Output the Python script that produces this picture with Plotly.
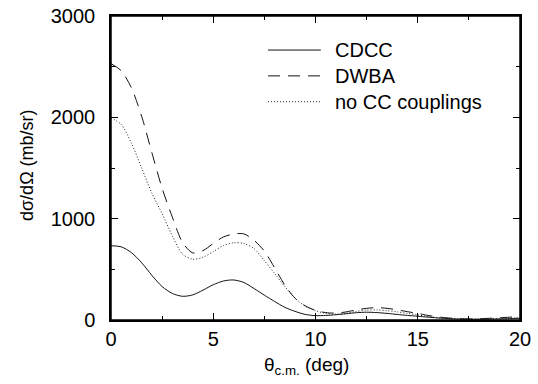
import plotly.graph_objects as go

theta = [0, 0.5, 1, 1.5, 2, 2.5, 3, 3.5, 4, 4.5, 5, 5.5, 6, 6.5, 7, 7.5, 8, 8.5, 9, 9.5,
         10, 10.5, 11, 11.5, 12, 12.5, 13, 13.5, 14, 14.5, 15, 15.5, 16, 16.5, 17, 17.5,
         18, 18.5, 19, 19.5, 20]

cdcc = [733, 722, 665, 565, 440, 330, 262, 234, 248, 295, 348, 385, 395, 370, 310, 245,
        183, 125, 85, 55, 43, 45, 52, 62, 72, 77, 73, 65, 55, 45, 37, 28, 20, 14, 10, 8,
        8, 9, 11, 14, 17]

dwba = [2530, 2460, 2290, 2010, 1650, 1300, 1015, 765, 662, 685, 755, 820, 848, 850, 785,
        680, 515, 345, 215, 140, 95, 73, 68, 80, 100, 115, 122, 115, 100, 82, 65, 45, 30,
        20, 13, 10, 12, 17, 22, 28, 35]

nocc = [1995, 1930, 1745, 1500, 1250, 1050, 830, 650, 600, 620, 675, 735, 762, 755, 703,
        585, 460, 330, 215, 135, 92, 65, 58, 68, 85, 97, 100, 92, 80, 65, 50, 35, 23, 15,
        10, 8, 10, 13, 16, 20, 24]

names = ["CDCC", "DWBA", "no CC couplings"]
dashes = ["solid", "12px,8px", "1px,2px"]
colors = ["#111111", "#111111", "#222222"]

FONT = "Liberation Sans, Arial, Helvetica, sans-serif"

fig = go.Figure()
for ys, nm, ds, c in zip([cdcc, dwba, nocc], names, dashes, colors):
    fig.add_trace(go.Scatter(x=theta, y=ys, mode="lines", name=nm,
                             line=dict(color=c, width=1, dash=ds, shape="spline", smoothing=0.8),
                             showlegend=False))

# frame box around the plotting area
fig.add_shape(type="rect", xref="paper", yref="paper", x0=0, x1=1, y0=0, y1=1,
              line=dict(color="black", width=1.5), fillcolor="rgba(0,0,0,0)", layer="above")

# manual legend (plot area: x 111..520 px, y 16..320 px)
legend_y = [0.888, 0.803, 0.718]
for nm, ds, c, yy in zip(names, dashes, colors, legend_y):
    fig.add_shape(type="line", xref="paper", yref="paper", x0=0.384, x1=0.513, y0=yy, y1=yy,
                  line=dict(color=c, width=1, dash=ds))
    fig.add_annotation(xref="paper", yref="paper", x=0.543, y=yy, text=nm, showarrow=False,
                       xanchor="left", yanchor="middle", font=dict(family=FONT, size=20, color="black"))

# axis titles
fig.add_annotation(xref="paper", yref="paper", x=(306 - 111) / 409, y=(320 - 366) / 304,
                   text="θ<sub>c.m.</sub> (deg)", showarrow=False, xanchor="center", yanchor="middle",
                   font=dict(family=FONT, size=19, color="black"))
fig.add_annotation(xref="paper", yref="paper", x=(27 - 111) / 409, y=(320 - 165) / 304,
                   text="dσ/dΩ (mb/sr)", showarrow=False, textangle=-90, xanchor="center", yanchor="middle",
                   font=dict(family=FONT, size=18, color="black"))

axis_common = dict(showgrid=False, zeroline=False, showline=True, linecolor="black", linewidth=1.5,
                   mirror="ticks", ticks="inside", ticklen=7, tickwidth=1, tickcolor="black",
                   ticklabeloverflow="allow", automargin=False,
                   tickfont=dict(family=FONT, size=20, color="black"))

fig.update_xaxes(range=[0, 20], tickvals=[0, 5, 10, 15, 20], ticktext=["0", "5", "10", "15", "20"],
                 minor=dict(tickvals=[2.5, 7.5, 12.5, 17.5], ticks="inside", ticklen=4, tickcolor="black"),
                 **axis_common)
fig.update_yaxes(range=[0, 3000], tickvals=[0, 1000, 2000, 3000], ticktext=["0", "1000", "2000", "3000"],
                 minor=dict(tickvals=[500, 1500, 2500], ticks="inside", ticklen=4, tickcolor="black"),
                 ticklabelstandoff=10, **axis_common)

fig.update_layout(width=538, height=384, margin=dict(l=111, r=18, t=16, b=64),
                  paper_bgcolor="white", plot_bgcolor="white", showlegend=False)

# remove the default 8px page margin so the figure sits at the window's top-left corner
fig.write_html("out.html", config={"displayModeBar": False},
               post_script="document.body.style.margin='0px';document.body.style.overflow='hidden';")
